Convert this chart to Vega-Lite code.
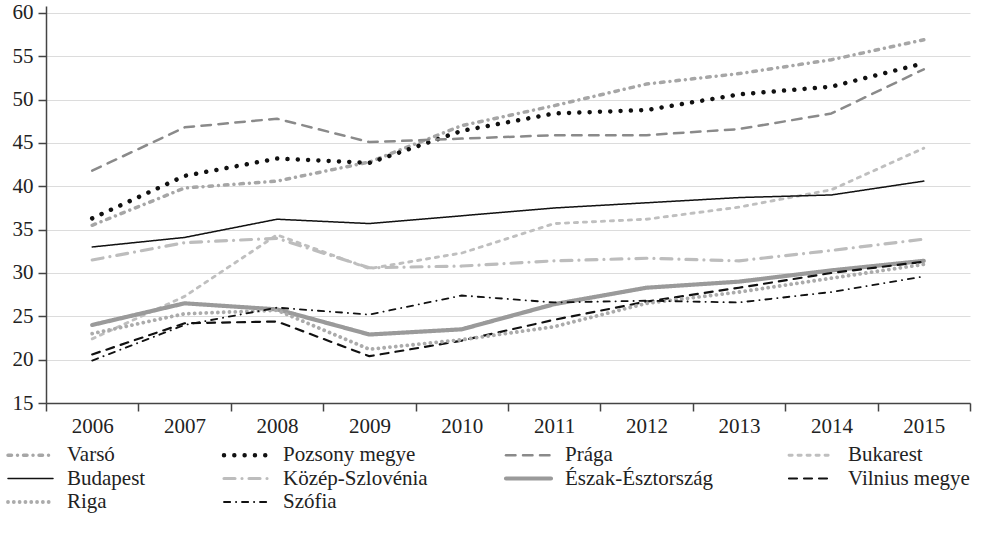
{
  "$schema": "https://vega.github.io/schema/vega-lite/v6.json",
  "width": 924,
  "height": 397,
  "autosize": {"type": "none"},
  "padding": {"left": 46, "top": 6, "right": 15, "bottom": 133},
  "config": {
    "view": {"stroke": null},
    "font": "Liberation Serif, DejaVu Serif, serif",
    "axis": {
      "labelFont": "Liberation Serif, DejaVu Serif, serif",
      "labelFontSize": 21,
      "labelColor": "#222222",
      "domainColor": "#444444",
      "domainWidth": 1.5,
      "tickColor": "#444444",
      "tickWidth": 1.5,
      "tickSize": 8,
      "title": null
    }
  },
  "data": {
    "values": [
      {"region": "Varsó", "year": "2006", "value": 35.5},
      {"region": "Varsó", "year": "2007", "value": 39.8},
      {"region": "Varsó", "year": "2008", "value": 40.6},
      {"region": "Varsó", "year": "2009", "value": 42.8},
      {"region": "Varsó", "year": "2010", "value": 47.0},
      {"region": "Varsó", "year": "2011", "value": 49.3},
      {"region": "Varsó", "year": "2012", "value": 51.8},
      {"region": "Varsó", "year": "2013", "value": 53.0},
      {"region": "Varsó", "year": "2014", "value": 54.6},
      {"region": "Varsó", "year": "2015", "value": 56.9},
      {"region": "Pozsony megye", "year": "2006", "value": 36.3},
      {"region": "Pozsony megye", "year": "2007", "value": 41.2},
      {"region": "Pozsony megye", "year": "2008", "value": 43.2},
      {"region": "Pozsony megye", "year": "2009", "value": 42.7},
      {"region": "Pozsony megye", "year": "2010", "value": 46.4},
      {"region": "Pozsony megye", "year": "2011", "value": 48.4},
      {"region": "Pozsony megye", "year": "2012", "value": 48.8},
      {"region": "Pozsony megye", "year": "2013", "value": 50.6},
      {"region": "Pozsony megye", "year": "2014", "value": 51.5},
      {"region": "Pozsony megye", "year": "2015", "value": 54.2},
      {"region": "Prága", "year": "2006", "value": 41.8},
      {"region": "Prága", "year": "2007", "value": 46.8},
      {"region": "Prága", "year": "2008", "value": 47.8},
      {"region": "Prága", "year": "2009", "value": 45.1},
      {"region": "Prága", "year": "2010", "value": 45.5},
      {"region": "Prága", "year": "2011", "value": 45.9},
      {"region": "Prága", "year": "2012", "value": 45.9},
      {"region": "Prága", "year": "2013", "value": 46.6},
      {"region": "Prága", "year": "2014", "value": 48.4},
      {"region": "Prága", "year": "2015", "value": 53.5},
      {"region": "Bukarest", "year": "2006", "value": 22.4},
      {"region": "Bukarest", "year": "2007", "value": 27.3},
      {"region": "Bukarest", "year": "2008", "value": 34.4},
      {"region": "Bukarest", "year": "2009", "value": 30.5},
      {"region": "Bukarest", "year": "2010", "value": 32.3},
      {"region": "Bukarest", "year": "2011", "value": 35.7},
      {"region": "Bukarest", "year": "2012", "value": 36.2},
      {"region": "Bukarest", "year": "2013", "value": 37.6},
      {"region": "Bukarest", "year": "2014", "value": 39.6},
      {"region": "Bukarest", "year": "2015", "value": 44.4},
      {"region": "Budapest", "year": "2006", "value": 33.0},
      {"region": "Budapest", "year": "2007", "value": 34.1},
      {"region": "Budapest", "year": "2008", "value": 36.2},
      {"region": "Budapest", "year": "2009", "value": 35.7},
      {"region": "Budapest", "year": "2010", "value": 36.6},
      {"region": "Budapest", "year": "2011", "value": 37.5},
      {"region": "Budapest", "year": "2012", "value": 38.1},
      {"region": "Budapest", "year": "2013", "value": 38.7},
      {"region": "Budapest", "year": "2014", "value": 39.0},
      {"region": "Budapest", "year": "2015", "value": 40.6},
      {"region": "Közép-Szlovénia", "year": "2006", "value": 31.5},
      {"region": "Közép-Szlovénia", "year": "2007", "value": 33.5},
      {"region": "Közép-Szlovénia", "year": "2008", "value": 34.0},
      {"region": "Közép-Szlovénia", "year": "2009", "value": 30.6},
      {"region": "Közép-Szlovénia", "year": "2010", "value": 30.8},
      {"region": "Közép-Szlovénia", "year": "2011", "value": 31.4},
      {"region": "Közép-Szlovénia", "year": "2012", "value": 31.7},
      {"region": "Közép-Szlovénia", "year": "2013", "value": 31.4},
      {"region": "Közép-Szlovénia", "year": "2014", "value": 32.6},
      {"region": "Közép-Szlovénia", "year": "2015", "value": 33.9},
      {"region": "Észak-Észtország", "year": "2006", "value": 24.0},
      {"region": "Észak-Észtország", "year": "2007", "value": 26.5},
      {"region": "Észak-Észtország", "year": "2008", "value": 25.8},
      {"region": "Észak-Észtország", "year": "2009", "value": 22.9},
      {"region": "Észak-Észtország", "year": "2010", "value": 23.5},
      {"region": "Észak-Észtország", "year": "2011", "value": 26.4},
      {"region": "Észak-Észtország", "year": "2012", "value": 28.3},
      {"region": "Észak-Észtország", "year": "2013", "value": 29.0},
      {"region": "Észak-Észtország", "year": "2014", "value": 30.3},
      {"region": "Észak-Észtország", "year": "2015", "value": 31.4},
      {"region": "Vilnius megye", "year": "2006", "value": 20.6},
      {"region": "Vilnius megye", "year": "2007", "value": 24.2},
      {"region": "Vilnius megye", "year": "2008", "value": 24.4},
      {"region": "Vilnius megye", "year": "2009", "value": 20.4},
      {"region": "Vilnius megye", "year": "2010", "value": 22.2},
      {"region": "Vilnius megye", "year": "2011", "value": 24.6},
      {"region": "Vilnius megye", "year": "2012", "value": 26.7},
      {"region": "Vilnius megye", "year": "2013", "value": 28.3},
      {"region": "Vilnius megye", "year": "2014", "value": 30.0},
      {"region": "Vilnius megye", "year": "2015", "value": 31.3},
      {"region": "Riga", "year": "2006", "value": 23.0},
      {"region": "Riga", "year": "2007", "value": 25.3},
      {"region": "Riga", "year": "2008", "value": 25.7},
      {"region": "Riga", "year": "2009", "value": 21.2},
      {"region": "Riga", "year": "2010", "value": 22.3},
      {"region": "Riga", "year": "2011", "value": 23.8},
      {"region": "Riga", "year": "2012", "value": 26.5},
      {"region": "Riga", "year": "2013", "value": 27.8},
      {"region": "Riga", "year": "2014", "value": 29.4},
      {"region": "Riga", "year": "2015", "value": 31.0},
      {"region": "Szófia", "year": "2006", "value": 19.9},
      {"region": "Szófia", "year": "2007", "value": 24.0},
      {"region": "Szófia", "year": "2008", "value": 26.0},
      {"region": "Szófia", "year": "2009", "value": 25.2},
      {"region": "Szófia", "year": "2010", "value": 27.4},
      {"region": "Szófia", "year": "2011", "value": 26.6},
      {"region": "Szófia", "year": "2012", "value": 26.8},
      {"region": "Szófia", "year": "2013", "value": 26.6},
      {"region": "Szófia", "year": "2014", "value": 27.8},
      {"region": "Szófia", "year": "2015", "value": 29.6}
    ]
  },
  "mark": {"type": "line", "strokeCap": "round", "strokeJoin": "round"},
  "encoding": {
    "x": {
      "field": "year",
      "type": "ordinal",
      "bandPosition": 0.5,
      "scale": {"type": "band", "paddingInner": 0, "paddingOuter": 0},
      "axis": {"tickBand": "extent", "labelAngle": 0, "labelPadding": 4, "grid": false}
    },
    "y": {
      "field": "value",
      "type": "quantitative",
      "scale": {"domain": [15, 60.8], "nice": false, "zero": false},
      "axis": {
        "values": [15, 20, 25, 30, 35, 40, 45, 50, 55, 60],
        "labelPadding": 5,
        "grid": true,
        "gridColor": "#dcdcdc",
        "gridWidth": 1
      }
    },
    "color": {
      "field": "region",
      "type": "nominal",
      "scale": {
        "domain": ["Budapest", "Szófia", "Vilnius megye", "Prága", "Bukarest", "Közép-Szlovénia", "Varsó", "Riga", "Észak-Észtország", "Pozsony megye"],
        "range": ["#111111", "#111111", "#111111", "#8a8a8a", "#bfbfbf", "#bdbdbd", "#a6a6a6", "#ababab", "#9a9a9a", "#111111"]
      },
      "legend": {
        "title": null,
        "values": ["Varsó", "Pozsony megye", "Prága", "Bukarest", "Budapest", "Közép-Szlovénia", "Észak-Észtország", "Vilnius megye", "Riga", "Szófia"],
        "orient": "none",
        "legendX": -38,
        "legendY": 438.5,
        "direction": "horizontal",
        "columns": 4,
        "columnPadding": 69,
        "rowPadding": 1.5,
        "padding": 0,
        "symbolType": "M-5,0H5",
        "symbolSize": 81,
        "symbolOffset": 12,
        "labelOffset": 26,
        "labelFont": "Liberation Serif, DejaVu Serif, serif",
        "labelFontSize": 21,
        "labelColor": "#222222",
        "labelLimit": 400,
        "encoding": {
          "symbols": {
            "strokeCap": {"value": "round"}
          }
        }
      }
    },
    "strokeDash": {
      "field": "region",
      "type": "nominal",
      "scale": {
        "domain": ["Budapest", "Szófia", "Vilnius megye", "Prága", "Bukarest", "Közép-Szlovénia", "Varsó", "Riga", "Észak-Észtország", "Pozsony megye"],
        "range": [[1, 0], [6.2, 5.8, 0.2, 5.8], [8, 7], [9.5, 7.5], [3.2, 5.8], [11, 7, 0.01, 7], [3.5, 6, 0.01, 6], [0.01, 5.8], [1, 0], [0.01, 10.3]]
      }
    },
    "strokeWidth": {
      "field": "region",
      "type": "nominal",
      "scale": {
        "type": "point",
        "padding": 0,
        "domain": ["Budapest", "Szófia", "Vilnius megye", "Prága", "Bukarest", "Közép-Szlovénia", "Varsó", "Riga", "Észak-Észtország", "Pozsony megye"],
        "range": [1.5, 4.5]
      }
    }
  }
}
